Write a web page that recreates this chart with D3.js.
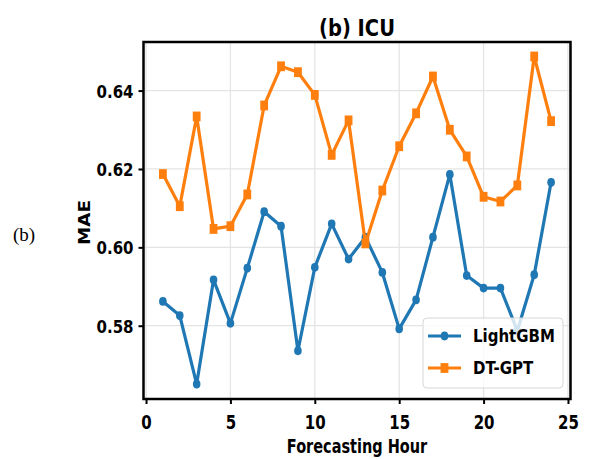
<!DOCTYPE html>
<html lang="en">

<head>
   <meta charset="UTF-8">
   <title>(b) ICU - MAE per forecasting hour</title>
   <script src="https://d3js.org/d3.v7.min.js"></script>
   <style>
      body {
         margin: 0;
         background: #fff;
      }

      text {
         font-family: 'DejaVu Sans', sans-serif;
         font-weight: bold;
         fill: #000;
      }

      text.panel {
         font-family: 'Liberation Serif', serif;
         font-weight: normal;
      }
   </style>
</head>

<body>
   <script>
      const hours = [1, 2, 3, 4, 5, 6, 7, 8, 9, 10, 11, 12, 13, 14, 15, 16, 17, 18, 19, 20, 21, 22, 23, 24];
      const lightgbm = [0.5862, 0.5826, 0.5651, 0.5917, 0.5806, 0.5947, 0.6091, 0.6054, 0.5736, 0.5949, 0.6060, 0.5970,
         0.6026, 0.5936, 0.5792, 0.5866, 0.6026, 0.6186, 0.5928, 0.5896, 0.5896, 0.5787, 0.5930, 0.6166];
      const dtgpt = [0.6187, 0.6105, 0.6334, 0.6047, 0.6054, 0.6135, 0.6362, 0.6462, 0.6447, 0.6389, 0.6236, 0.6324,
         0.6010, 0.6145, 0.6258, 0.6342, 0.6436, 0.6300, 0.6232, 0.6129, 0.6117, 0.6158, 0.6487, 0.6322];
      const xTicks = [0, 5, 10, 15, 20, 25];
      const yTicks = [0.58, 0.60, 0.62, 0.64];
      const seriesNames = ['LightGBM', 'DT-GPT'];

      const width = 589;
      const height = 459;
      const frame = { left: 143.5, right: 570.5, top: 42, bottom: 399 };
      const blue = '#1f77b4';
      const orange = '#ff7f0e';

      const svg = d3.select('body').append('svg').attr('width', width).attr('height', height);

      const x = d3.scaleLinear().domain([-0.15, 25.15]).range([frame.left, frame.right]);
      const y = d3.scaleLinear().domain([0.5613, 0.6524]).range([frame.bottom, frame.top]);

      // grid
      svg.append('g').selectAll('line').data(xTicks).join('line')
         .attr('x1', d => x(d)).attr('x2', d => x(d))
         .attr('y1', frame.top).attr('y2', frame.bottom)
         .attr('stroke', '#e4e4e4').attr('stroke-width', 1.3);
      svg.append('g').selectAll('line').data(yTicks).join('line')
         .attr('x1', frame.left).attr('x2', frame.right)
         .attr('y1', d => y(d)).attr('y2', d => y(d))
         .attr('stroke', '#e4e4e4').attr('stroke-width', 1.3);

      // axes (text is stretched vertically like the source figure)
      const xAxis = svg.append('g')
         .attr('transform', `translate(0, ${frame.bottom})`)
         .call(d3.axisBottom(x).tickValues(xTicks).tickSize(5).tickPadding(0));
      xAxis.selectAll('text')
         .attr('y', 0).attr('dy', 0)
         .attr('font-size', 15)
         .attr('transform', 'translate(0, 30) scale(1, 1.25)');

      const yAxis = svg.append('g')
         .attr('transform', `translate(${frame.left}, 0)`)
         .call(d3.axisLeft(y).tickValues(yTicks).tickSize(5).tickFormat(d3.format('.2f')));
      yAxis.selectAll('text')
         .attr('x', 0).attr('dy', 0)
         .attr('font-size', 15)
         .attr('transform', 'translate(-10, 6.5) scale(1, 1.22)');

      svg.selectAll('.domain').remove();
      svg.selectAll('.tick line').attr('stroke', '#000').attr('stroke-width', 2);

      // series
      const line = d3.line().x(d => x(d[0])).y(d => y(d[1]));
      const lgPts = hours.map((h, i) => [h, lightgbm[i]]);
      const dtPts = hours.map((h, i) => [h, dtgpt[i]]);

      svg.append('path').datum(lgPts).attr('d', line)
         .attr('fill', 'none').attr('stroke', blue).attr('stroke-width', 3.2).attr('stroke-linejoin', 'round');
      svg.append('g').selectAll('ellipse').data(lgPts).join('ellipse')
         .attr('cx', d => x(d[0])).attr('cy', d => y(d[1]))
         .attr('rx', 3.8).attr('ry', 4.4).attr('fill', blue);

      svg.append('path').datum(dtPts).attr('d', line)
         .attr('fill', 'none').attr('stroke', orange).attr('stroke-width', 3.2).attr('stroke-linejoin', 'round');
      svg.append('g').selectAll('rect').data(dtPts).join('rect')
         .attr('x', d => x(d[0]) - 3.9).attr('y', d => y(d[1]) - 4.9)
         .attr('width', 7.8).attr('height', 9.8).attr('fill', orange);

      // frame
      svg.append('rect')
         .attr('x', frame.left).attr('y', frame.top)
         .attr('width', frame.right - frame.left).attr('height', frame.bottom - frame.top)
         .attr('fill', 'none').attr('stroke', '#000').attr('stroke-width', 2.5);

      // legend
      const legend = svg.append('g');
      legend.append('rect')
         .attr('x', 423).attr('y', 318).attr('width', 140).attr('height', 70).attr('rx', 4)
         .attr('fill', '#fff').attr('fill-opacity', 0.8).attr('stroke', '#d6d6d6');
      const colors = [blue, orange];
      seriesNames.forEach((name, i) => {
         const ly = 336 + i * 32;
         legend.append('line')
            .attr('x1', 428).attr('x2', 461).attr('y1', ly).attr('y2', ly)
            .attr('stroke', colors[i]).attr('stroke-width', 3.2);
         if (i === 0) {
            legend.append('ellipse').attr('cx', 444.5).attr('cy', ly).attr('rx', 3.8).attr('ry', 4.4).attr('fill', blue);
         } else {
            legend.append('rect').attr('x', 440.6).attr('y', ly - 4.9).attr('width', 7.8).attr('height', 9.8).attr('fill', orange);
         }
         legend.append('text')
            .attr('font-size', 15)
            .attr('transform', `translate(473, ${ly + 6}) scale(1, 1.22)`)
            .text(name);
      });

      // titles and labels
      svg.append('text')
         .attr('text-anchor', 'middle').attr('font-size', 19.5)
         .attr('transform', `translate(${(frame.left + frame.right) / 2}, 36) scale(1, 1.15)`)
         .text('(b) ICU');

      svg.append('text')
         .attr('text-anchor', 'middle').attr('font-size', 14.5)
         .attr('transform', `translate(${(frame.left + frame.right) / 2}, 453) scale(1, 1.3)`)
         .text('Forecasting Hour');

      svg.append('text')
         .attr('text-anchor', 'middle').attr('font-size', 15)
         .attr('transform', 'translate(89.5, 222.5) scale(1, 1.22) rotate(-90)')
         .text('MAE');

      svg.append('text')
         .attr('class', 'panel')
         .attr('x', 13).attr('y', 241)
         .attr('font-size', 19)
         .text('(b)');
   </script>
</body>

</html>
